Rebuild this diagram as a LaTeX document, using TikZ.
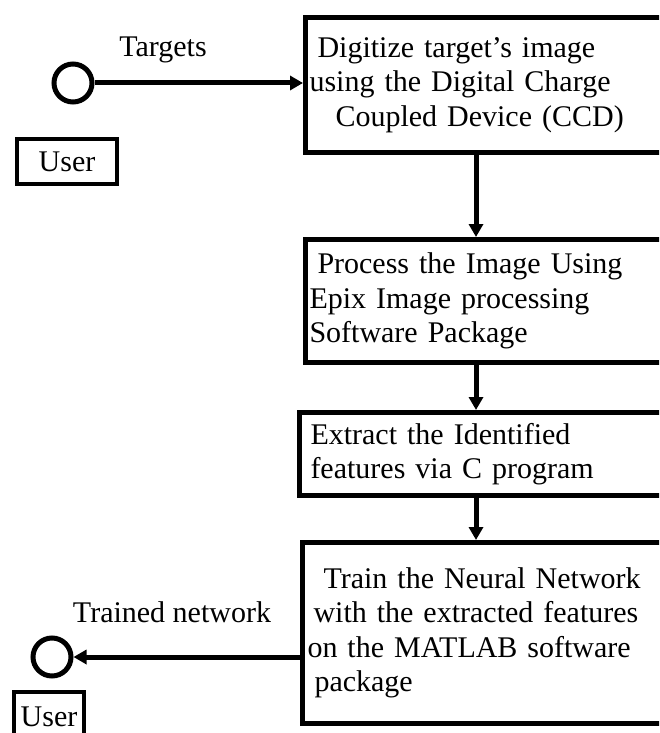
\documentclass[tikz,border=0pt]{standalone}
\usepackage{fontspec}
\setmainfont{Liberation Serif}
\usetikzlibrary{arrows.meta,positioning}

\begin{document}
\begin{tikzpicture}[x=1pt, y=-1pt,
    every node/.style={font=\fontsize{30}{34.5}\selectfont},
    stage/.style={draw, line width=5pt, anchor=north west, align=left,
        text width=372pt, inner xsep=4pt, inner ysep=0pt},
    actor/.style={draw, circle, line width=5pt, minimum size=38pt, inner sep=0pt},
    userbox/.style={draw, line width=4pt, anchor=north west, inner sep=0pt},
    flow/.style={line width=5pt, -{Triangle[length=13pt, width=14pt]}}]
    \useasboundingbox (0,0) rectangle (659,733);
    \clip (0,0) rectangle (659,733);

    % processing chain
    \node[stage, minimum height=135pt] (digitize) at (303,15)
        {\hspace*{8pt}Digitize target's image\\
         using the Digital Charge\\
         \hspace*{26pt}Coupled Device (CCD)};
    \node[stage, minimum height=123pt] (process) at (303,237)
        {\hspace*{8pt}Process the Image Using\\
         Epix Image processing\\
         Software Package};
    \node[stage, minimum height=83pt] (extract) at (297,410)
        {\hspace*{7pt}Extract the Identified\\
         \hspace*{7pt}features via C program};
    \node[stage, minimum height=181pt] (train) at (300,540)
        {\hspace*{17pt}Train the Neural Network\\
         \hspace*{7pt}with the extracted features\\
         \hspace*{1pt}on the MATLAB software\\
         \hspace*{8pt}package};

    \coordinate (spine) at (476,0);
    \draw[flow] (spine |- digitize.south) -- (spine |- process.north);
    \draw[flow] (spine |- process.south) -- (spine |- extract.north);
    \draw[flow] (spine |- extract.south) -- (spine |- train.north);

    % user in
    \node[actor] (source) at (73,83) {};
    \node (targets) at (163,50) {Targets};
    \draw[flow] (source.east) -- (source.east -| digitize.west);
    \node[userbox, minimum width=100pt, minimum height=45pt] (user1) at (15,137) {User};

    % user out
    \node[actor] (sink) at (52,657) {};
    \node (trained) at (172,612) {Trained network};
    \draw[flow] (sink.east -| train.west) -- (sink.east);
    \node[userbox, minimum width=70pt, minimum height=50pt] (user2) at (12,690) {User};
\end{tikzpicture}
\end{document}
